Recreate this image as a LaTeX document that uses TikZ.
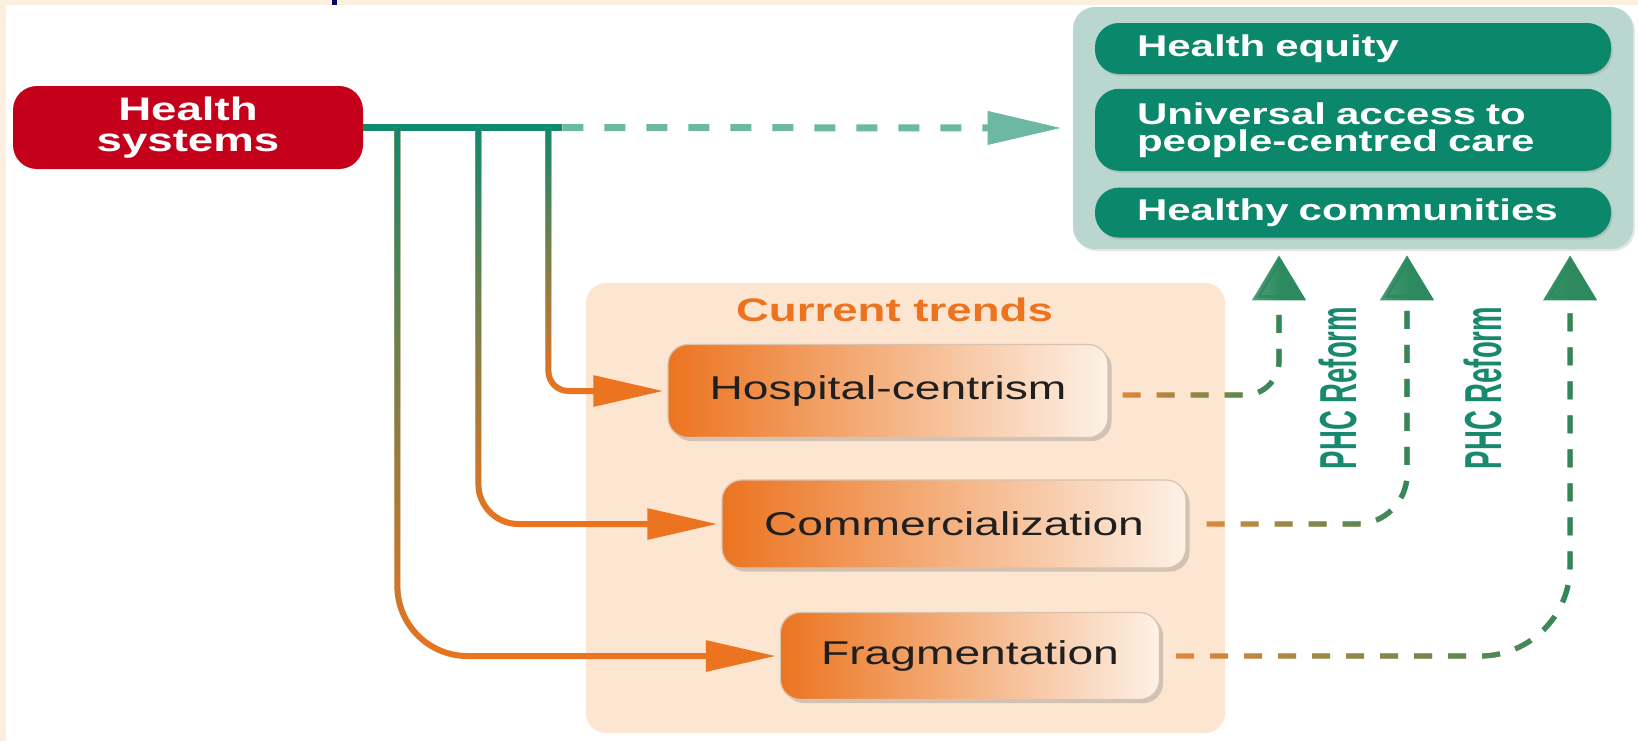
\documentclass[tikz,border=0pt]{standalone}
\usepackage{fontspec}
\setmainfont{Liberation Sans}
\newfontfamily\widefont[FakeStretch=1.4]{Liberation Sans}
\newfontfamily\tallfont[FakeStretch=0.53]{Liberation Sans}
\usetikzlibrary{arrows.meta, positioning, shadows, fadings}

\definecolor{hsred}{HTML}{C4001A}
\definecolor{pathteal}{HTML}{0E8A6E}
\definecolor{goalteal}{HTML}{0B876B}
\definecolor{goalback}{HTML}{B9D7CF}
\definecolor{dashteal}{HTML}{6CB8A2}
\definecolor{trendorange}{HTML}{EC7420}
\definecolor{trendpeach}{HTML}{FDE6D1}
\definecolor{boxlight}{HTML}{FDF1E6}
\definecolor{boxedge}{HTML}{D9C2AE}
\definecolor{reformorange}{HTML}{E3873A}
\definecolor{reformgreen}{HTML}{2C8A5E}
\definecolor{reformtext}{HTML}{18896E}
\definecolor{slidecream}{HTML}{FBEFDF}
\definecolor{slidenavy}{HTML}{0B0B6E}

\tikzfading[name=fade south, top color=transparent!0, middle color=transparent!30, bottom color=transparent!100]
\tikzfading[name=fade west, left color=transparent!100, middle color=transparent!70, right color=transparent!0]

\begin{document}
\begin{tikzpicture}[
        x=0.5pt, y=-0.5pt,
        node distance=7.5pt,
        hsbox/.style={rectangle, rounded corners=12pt, fill=hsred, text=white, minimum width=175pt, minimum height=41.5pt, align=center, inner sep=0pt, font=\widefont\bfseries\fontsize{16.3pt}{15.5pt}\selectfont},
        goalpanel/.style={rectangle, rounded corners=11pt, fill=goalback, minimum width=280pt, minimum height=121pt, drop shadow={opacity=0.2, shadow xshift=1pt, shadow yshift=-1pt}},
        goalbox/.style={rectangle, rounded corners=12pt, fill=goalteal, text=white, minimum width=258pt, text width=216pt, align=left, inner xsep=21pt, inner ysep=0pt, font=\widefont\bfseries\fontsize{15pt}{13.5pt}\selectfont, drop shadow={opacity=0.25, shadow xshift=0.8pt, shadow yshift=-1pt}},
        trendpanel/.style={rectangle, rounded corners=10pt, fill=trendpeach, minimum width=319.5pt, minimum height=225pt},
        trendlabel/.style={inner sep=0pt, text=trendorange, font=\widefont\bfseries\fontsize{16.3pt}{18pt}\selectfont},
        trendbox/.style={rectangle, rounded corners=10pt, left color=trendorange, right color=boxlight, draw=boxedge, line width=0.6pt, text=black!88, font=\widefont\fontsize{16.5pt}{18pt}\selectfont, drop shadow={opacity=0.35, shadow xshift=1.8pt, shadow yshift=-1.8pt}},
        reformlabel/.style={rotate=90, inner sep=0pt, text=reformtext, font=\tallfont\bfseries\fontsize{26pt}{28pt}\selectfont},
        trunk/.style={draw=pathteal, line width=3.3pt},
        goalarrow/.style={draw=dashteal, line width=3.5pt, dash pattern=on 10.5pt off 10.5pt, -{Triangle[length=37pt, width=16pt]}, shorten >=5.5pt},
        branch/.style={draw=trendorange, line width=3pt, -{Triangle[length=35pt, width=15pt]}, shorten >=2pt},
        branchfade/.style={draw=pathteal, line width=3pt, path fading=fade south},
        reformline/.style={draw=reformorange, line width=2.6pt, dash pattern=on 9pt off 8pt, shorten >=26pt},
        reformfade/.style={draw=reformgreen, line width=2.6pt, dash pattern=on 9pt off 8pt, path fading=fade west, -{Triangle[length=22.5pt, width=26.5pt]}, shorten >=3pt}
    ]
    \useasboundingbox (0,0) rectangle (1638,741);

    % slide background
    \fill[white] (0,0) rectangle (1638,741);
    \fill[slidecream] (0,0) rectangle (1638,5);
    \fill[slidecream] (0,0) rectangle (6,741);
    \fill[slidenavy] (332,0) rectangle (337,5);

    % Nodes
    \node (hs) [hsbox] at (188,127.5) {Health\\systems};

    \node (goals) [goalpanel] at (1353,128) {};
    \node (equity) [goalbox, minimum height=25.5pt, below=8pt of goals.north] {Health equity};
    \node (access) [goalbox, minimum height=41pt, below=7pt of equity] {Universal access to\\people-centred care};
    \node (communities) [goalbox, minimum height=25pt, below=8pt of access] {Healthy communities};

    \node (trends) [trendpanel] at (905.5,508) {};
    \node (trendtitle) [trendlabel, below=7.5pt of trends.north, xshift=-5.5pt] {Current trends};
    \node (hosp) [trendbox, minimum width=220pt, minimum height=46.5pt] at (888,391) {Hospital-centrism};
    \node (comm) [trendbox, minimum width=232pt, minimum height=44pt] at (954,524) {Commercialization};
    \node (frag) [trendbox, minimum width=189.5pt, minimum height=43.5pt] at (970,656) {Fragmentation};

    \node (phcA) [reformlabel] at (1338,388) {PHC Reform};
    \node (phcB) [reformlabel] at (1483,388) {PHC Reform};

    \coordinate (tee) at ([xshift=99.5pt]hs.east);
    \coordinate (forkA) at ([xshift=17pt]hs.east);
    \coordinate (forkB) at ([xshift=57.5pt]hs.east);
    \coordinate (forkC) at ([xshift=92.5pt]hs.east);

    % Arrows
    \draw [trunk] (hs.east) -- (tee);
    \draw [goalarrow] (tee) -- (goals.west);

    \draw [branch, rounded corners=35pt] (forkA) |- (frag.west);
    \draw [branchfade, rounded corners=35pt] (forkA) |- (frag.west);
    \draw [branch, rounded corners=20pt] (forkB) |- (comm.west);
    \draw [branchfade, rounded corners=20pt] (forkB) |- (comm.west);
    \draw [branch, rounded corners=10pt] (forkC) |- (hosp.west);
    \draw [branchfade, rounded corners=10pt] (forkC) |- (hosp.west);

    \draw [reformline, rounded corners=17pt] ([shift={(7pt,-2pt)}]hosp.east) -| ([xshift=-37pt]goals.south);
    \draw [reformfade, rounded corners=17pt] ([shift={(7pt,-2pt)}]hosp.east) -| ([xshift=-37pt]goals.south);
    \draw [reformline, rounded corners=25pt] ([xshift=10pt]comm.east) -| ([xshift=27pt]goals.south);
    \draw [reformfade, rounded corners=25pt] ([xshift=10pt]comm.east) -| ([xshift=27pt]goals.south);
    \draw [reformline, rounded corners=45pt] ([xshift=8pt]frag.east) -| ([xshift=108.5pt]goals.south);
    \draw [reformfade, rounded corners=45pt] ([xshift=8pt]frag.east) -| ([xshift=108.5pt]goals.south);

\end{tikzpicture}
\end{document}
